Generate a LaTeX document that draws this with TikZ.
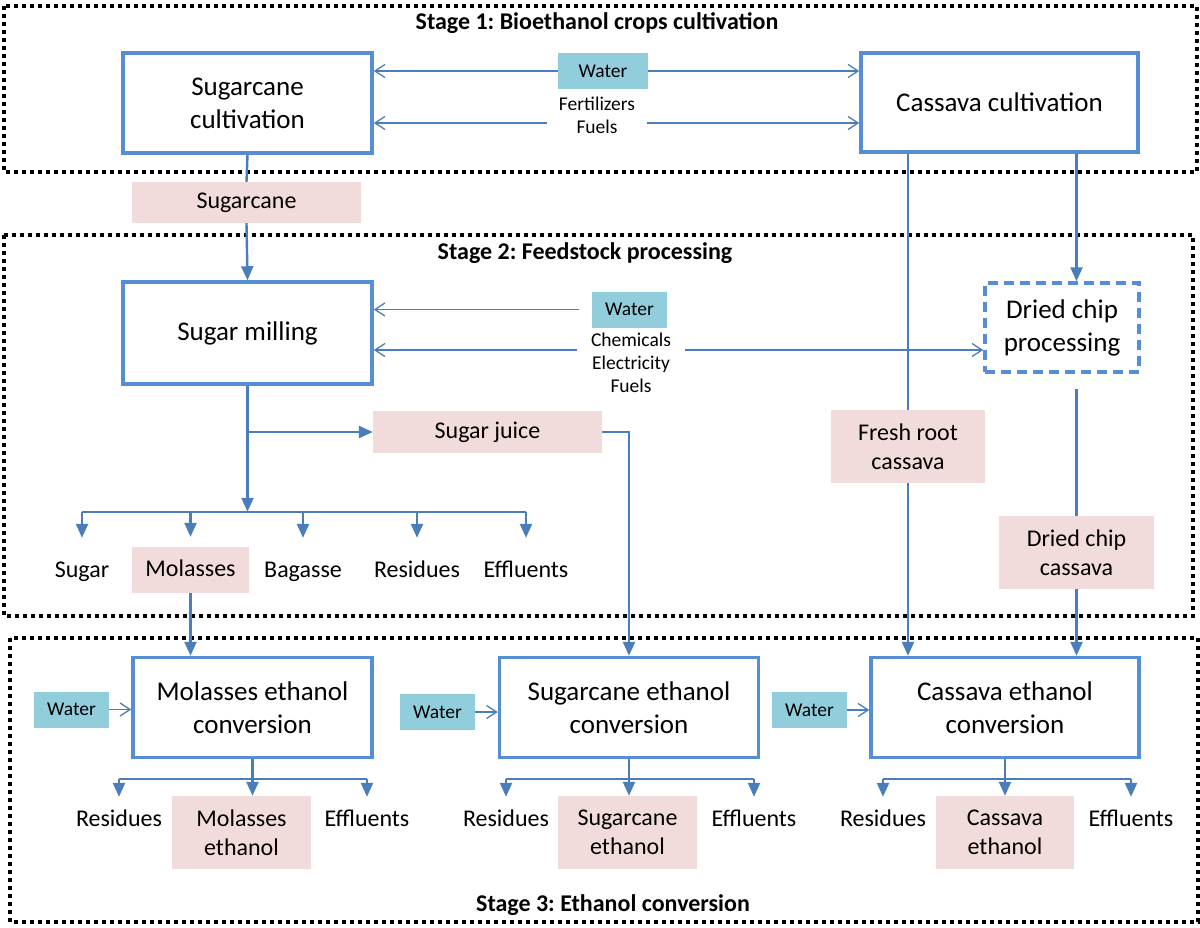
\documentclass[tikz,border=0pt]{standalone}
\usepackage{fontspec}
\setmainfont{Carlito}
\usetikzlibrary{arrows.meta}
\definecolor{boxblue}{RGB}{85,142,213}
\definecolor{lineblue}{RGB}{74,126,187}
\definecolor{waterfill}{RGB}{146,205,220}
\definecolor{pinkfill}{RGB}{242,220,219}
\newcommand{\procfont}{\fontsize{27}{33}\selectfont}
\newcommand{\lblfont}{\fontsize{24}{29}\selectfont}
\newcommand{\smlfont}{\fontsize{19.5}{23}\selectfont}
\newcommand{\ttlfont}{\fontsize{24}{29}\selectfont\bfseries}
\frenchspacing
\begin{document}
\begin{tikzpicture}[x=1pt, y=-1pt,
    procbox/.style={draw=boxblue, line width=3.5pt, fill=white, align=center, inner sep=0pt, font=\procfont},
    pinklbl/.style={fill=pinkfill, align=center, inner sep=0pt, font=\lblfont},
    onerow/.style={text height=17pt, text depth=5pt},
    outlbl/.style={align=center, inner sep=0pt, minimum height=46pt, onerow, font=\lblfont},
    waterbox/.style={fill=waterfill, inner sep=0pt, minimum width=75pt, minimum height=36pt, font=\smlfont},
    inputs/.style={align=center, inner sep=0pt, font=\smlfont},
    stagebox/.style={draw=black, line width=3.5pt, dash pattern=on 4pt off 4pt},
    flow/.style={draw=lineblue, line width=2.4pt, -{Triangle[length=14pt,width=12pt]}},
    plainflow/.style={draw=lineblue, line width=2.4pt},
    supply/.style={draw=lineblue, line width=1.3pt, -{Straight Barb[length=10pt,width=13pt]}}]
    \useasboundingbox (0,0) rectangle (1200,927);

    % 1. Khung ba giai đoạn
    \draw[stagebox] (4,6) rectangle (1197,172);
    \draw[stagebox] (4,235) rectangle (1193,616);
    \draw[stagebox] (10,638) rectangle (1198,922);
    \node[font=\ttlfont] (t1) at (597,23) {Stage 1: Bioethanol crops cultivation};
    \node[font=\ttlfont] (t2) at (585,253) {Stage 2: Feedstock processing};
    \node[font=\ttlfont] (t3) at (613,905) {Stage 3: Ethanol conversion};

    % 2. Giai đoạn 1
    \node[procbox, minimum width=249pt, minimum height=100pt] (scult) at (247.5,103) {Sugarcane\\cultivation};
    \node[procbox, minimum width=277pt, minimum height=99pt] (ccult) at (999.5,102.5) {Cassava cultivation};
    \node[waterbox, minimum width=90pt] (w1) at (603,71) {Water};
    \node[inputs, inner xsep=12pt] (ff1) at (597,115) {Fertilizers\\Fuels};
    \node[pinklbl, onerow, minimum width=229pt, minimum height=41pt] (pcane) at (246.5,202.5) {Sugarcane};

    % 3. Giai đoạn 2
    \node[procbox, minimum width=249pt, minimum height=102pt] (smill) at (247.5,333) {Sugar milling};
    \node[procbox, dash pattern=on 10pt off 6pt, minimum width=154pt, minimum height=89pt] (dchip) at (1062,327.5) {Dried chip\\processing};
    \node[waterbox] (w2) at (629.5,309.5) {Water};
    \node[inputs, inner xsep=14pt] (cef) at (631,363) {Chemicals\\Electricity\\Fuels};
    \node[pinklbl, onerow, minimum width=229pt, minimum height=42pt] (sjuice) at (487.5,432) {Sugar juice};
    \node[pinklbl, minimum width=154pt, minimum height=73pt] (froot) at (908,446.5) {Fresh root\\cassava};
    \node[pinklbl, minimum width=155pt, minimum height=73pt] (dcc) at (1076.5,552.5) {Dried chip\\cassava};
    \node[outlbl] (sugar) at (82,571) {Sugar};
    \node[pinklbl, onerow, minimum width=117pt, minimum height=46pt] (molas) at (190.5,570) {Molasses};
    \node[outlbl] (bagas) at (303,571) {Bagasse};
    \node[outlbl] (resid1) at (417,571) {Residues};
    \node[outlbl] (effl1) at (526,571) {Effluents};

    % 4. Giai đoạn 3
    \node[procbox, minimum width=239pt, minimum height=100pt] (mconv) at (252.5,707.5) {Molasses ethanol\\conversion};
    \node[procbox, minimum width=259pt, minimum height=100pt] (sconv) at (629,707.5) {Sugarcane ethanol\\conversion};
    \node[procbox, minimum width=268pt, minimum height=100pt] (cconv) at (1005,707.5) {Cassava ethanol\\conversion};
    \node[waterbox] (wm) at (71.5,709.5) {Water};
    \node[waterbox] (ws) at (437.5,712) {Water};
    \node[waterbox] (wc) at (809.5,710) {Water};
    \node[outlbl] (mres) at (119,820) {Residues};
    \node[pinklbl, minimum width=139pt, minimum height=73pt] (meth) at (241.5,832.5) {Molasses\\ethanol};
    \node[outlbl] (meff) at (367,820) {Effluents};
    \node[outlbl] (sres) at (506,820) {Residues};
    \node[pinklbl, minimum width=139pt, minimum height=73pt] (seth) at (627.5,832.5) {Sugarcane\\ethanol};
    \node[outlbl] (seff) at (754,820) {Effluents};
    \node[outlbl] (cres) at (883,820) {Residues};
    \node[pinklbl, minimum width=138pt, minimum height=73pt] (ceth) at (1005,832.5) {Cassava\\ethanol};
    \node[outlbl] (ceff) at (1131,820) {Effluents};

    % 5. Đầu vào
    \draw[supply] (w1.west) -- (w1.west -| scult.east);
    \draw[supply] (w1.east) -- (w1.east -| ccult.west);
    \draw[supply] ([yshift=-8pt]ff1.west) -- ([yshift=-8pt]ff1.west -| scult.east);
    \draw[supply] ([yshift=-8pt]ff1.east) -- ([yshift=-8pt]ff1.east -| ccult.west);
    \draw[supply] ([xshift=-13pt]w2.west) -- (w2.west -| smill.east);
    \draw[supply] ([yshift=13pt]cef.west) -- ([yshift=13pt]cef.west -| smill.east);
    \draw[supply] ([yshift=13pt]cef.east) -- ([yshift=13pt]cef.east -| dchip.west);
    \foreach \w/\b in {wm/mconv, ws/sconv, wc/cconv}
        \draw[supply] (\w.east) -- (\w.east -| \b.west);

    % 6. Dòng nguyên liệu
    \draw[plainflow] (scult.south) -- (pcane.north);
    \draw[flow] (pcane.south) -- (smill.north);
    \path (smill.south) ++(0,126) coordinate (split);
    \draw[flow] (smill.south) -- (split);
    \draw[flow] (smill.south |- sjuice.west) -- (sjuice.west);
    \draw[flow] (sjuice.east) -| (sconv.north);
    \draw[plainflow] (sugar.north |- split) -- (effl1.north |- split);
    \foreach \n in {sugar,molas,bagas,resid1,effl1}
        \draw[flow] (\n.north |- split) -- ([yshift=10pt]\n.north);
    \draw[flow] (molas.south) -- (molas.south |- mconv.north);
    \draw[plainflow] (ccult.south -| froot) -- (froot.north);
    \draw[flow] (froot.south) -- (froot.south |- cconv.north);
    \draw[flow] (ccult.south -| dcc) -- (dcc |- dchip.north);
    \draw[plainflow] ([yshift=-15pt]dchip.south -| dcc) -- (dcc.north);
    \draw[flow] (dcc.south) -- (dcc.south |- cconv.north);

    % 7. Sản phẩm ethanol
    \foreach \b/\r/\e/\p in {mconv/mres/meff/meth, sconv/sres/seff/seth, cconv/cres/ceff/ceth} {
        \draw[flow] (\b.south) -- (\b.south |- \p.north);
        \draw[plainflow] ([yshift=-20pt]\r.north |- \b.south) -- ([yshift=-20pt]\e.north |- \b.south);
        \draw[flow] ([yshift=-20pt]\r.north |- \b.south) -- (\r.north);
        \draw[flow] ([yshift=-20pt]\e.north |- \b.south) -- (\e.north);
    }
\end{tikzpicture}
\end{document}
